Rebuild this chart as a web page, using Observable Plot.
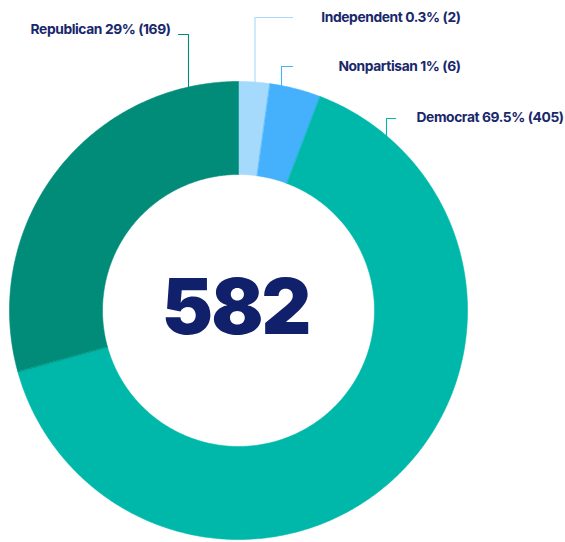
<!DOCTYPE html>
<html><head><meta charset="utf-8">
<script src="https://cdn.jsdelivr.net/npm/d3@7"></script>
<script src="https://cdn.jsdelivr.net/npm/@observablehq/plot@0.6"></script>
<style>
html,body{margin:0;padding:0;background:#fff;}
#chart svg{display:block;}
#chart .lbl text{letter-spacing:-0.4px;}
#chart .big text{letter-spacing:-2px;}
</style></head><body><div id="chart"></div>
<script>
// ---- data (clockwise from 12 o'clock) ----
const parties = ["Independent", "Nonpartisan", "Democrat", "Republican"];
const counts = [2, 6, 405, 169];
const percentLabels = ["0.3%", "1%", "69.5%", "29%"];
// share of the ring each slice occupies as drawn in the reference (tiny slices enlarged)
const arcShares = [2.2, 3.6, 64.9, 29.3];
const totalLabel = "582";
const colors = ["#a5dafd", "#45b1fd", "#00b8a9", "#008c79"];

// ---- layout ----
const W = 565, H = 542, CX = 238, CY = 310, R_OUT = 229, R_IN = 136;
const layout = {
  Independent: {leaderX: 254.5, elbowY: 17, elbowEndX: 292, textX: 460, textY: 17, anchor: "end"},
  Nonpartisan: {leaderX: 281, elbowY: 66, elbowEndX: 292, textX: 460, textY: 66, anchor: "end"},
  Democrat: {leaderX: 386, elbowY: 118, elbowEndX: 395, textX: 416, textY: 117, anchor: "start"},
  Republican: {leaderX: 188, elbowY: 34, elbowEndX: 178, textX: 170, textY: 29, anchor: "end"}
};
const dx = px => px - CX, dy = py => CY - py;

// ring polygons
const sum = d3.sum(arcShares);
const slices = [];
let a0 = 0;
parties.forEach((p, i) => {
  const a1 = a0 + arcShares[i] / sum * 2 * Math.PI;
  const n = Math.max(4, Math.ceil((a1 - a0) / 0.01));
  for (let k = 0; k <= n; k++) {
    const a = a0 + (a1 - a0) * k / n;
    slices.push({party: p, x: R_OUT * Math.sin(a), y: R_OUT * Math.cos(a)});
  }
  for (let k = n; k >= 0; k--) {
    const a = a0 + (a1 - a0) * k / n;
    slices.push({party: p, x: R_IN * Math.sin(a), y: R_IN * Math.cos(a)});
  }
  a0 = a1;
});

// leaders
const leaders = [];
const labels = [];
parties.forEach((p, i) => {
  const L = layout[p];
  const lx = dx(L.leaderX);
  const yArc = Math.sqrt(R_OUT * R_OUT - lx * lx);
  leaders.push({party: p, x: lx, y: yArc - 4});
  leaders.push({party: p, x: lx, y: dy(L.elbowY)});
  leaders.push({party: p, x: dx(L.elbowEndX), y: dy(L.elbowY)});
  labels.push({party: p, anchor: L.anchor, x: dx(L.textX), y: dy(L.textY),
    text: `${p} ${percentLabels[i]} (${counts[i]})`});
});

const font = "Inter, 'Noto Sans', sans-serif";
const plot = Plot.plot({
  width: W, height: H, margin: 0,
  x: {domain: [dx(0), dx(W)], axis: null},
  y: {domain: [dy(H), dy(0)], axis: null},
  color: {domain: parties, range: colors},
  style: {fontFamily: font, background: "#fff"},
  marks: [
    Plot.line(slices, {x: "x", y: "y", z: "party", fill: "party", stroke: "party", strokeWidth: 0.6, curve: "linear-closed"}),
    Plot.line(leaders, {x: "x", y: "y", z: "party", stroke: "party", strokeWidth: 1.1}),
    Plot.text(labels.filter(d => d.anchor === "end"), {x: "x", y: "y", text: "text", textAnchor: "end", fill: "#19276b", fontSize: 13.8, fontWeight: 700, className: "lbl"}),
    Plot.text(labels.filter(d => d.anchor === "start"), {x: "x", y: "y", text: "text", textAnchor: "start", fill: "#19276b", fontSize: 13.8, fontWeight: 700, className: "lbl"}),
    Plot.text([totalLabel], {x: () => dx(235), y: () => dy(309), text: d => d, fill: "#11206b", fontSize: 77, fontWeight: 900, className: "big"})
  ]
});
document.getElementById("chart").append(plot);
</script></body></html>
